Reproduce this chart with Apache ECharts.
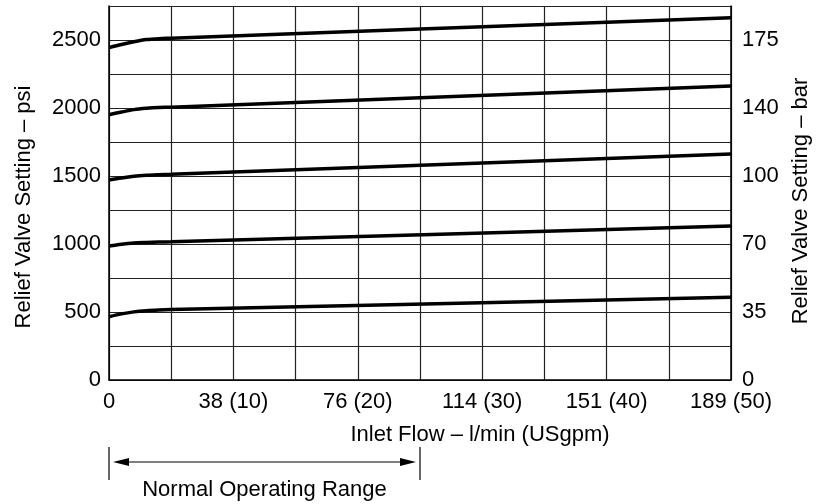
<!DOCTYPE html>
<html>
<head>
<meta charset="utf-8">
<script src="https://cdn.jsdelivr.net/npm/echarts@6/dist/echarts.min.js"></script>
<style>
  html, body { margin: 0; padding: 0; background: #fff; }
  #chart { width: 821px; height: 504px; }
</style>
</head>
<body>
<div id="chart"></div>
<script>
// inlet flow in USgpm
const flow = [0, 1, 2, 3, 4, 5, 50];
// relief valve setting curves, psi
const curve2500 = [2444, 2467, 2487, 2503, 2510, 2513, 2664];
const curve2000 = [1950, 1970, 1988, 1998, 2004, 2006, 2162];
const curve1500 = [1471, 1486, 1498, 1505, 1509, 1512, 1662];
const curve1000 = [985, 998, 1007, 1011, 1014, 1016, 1132];
const curve500 = [465, 486, 501, 510, 515, 518, 608];

const flowTickLabels = ['0', '38 (10)', '76 (20)', '114 (30)', '151 (40)', '189 (50)'];
const psiTickLabels = ['0', '500', '1000', '1500', '2000', '2500'];
const barTickLabels = ['0', '35', '70', '100', '140', '175'];
const normalRange = [0, 25];

const FONT = 'Liberation Sans, Arial, sans-serif';
const FS = 22;

let chart = echarts.init(document.getElementById('chart'));

function pairs(ys) {
  return flow.map((x, i) => [x, ys[i]]);
}

const curves = [curve2500, curve2000, curve1500, curve1000, curve500];

var option = {
  animation: false,
  grid: {
    left: 109,
    right: 90,
    top: 6,
    bottom: 124
  },
  xAxis: {
    type: 'value',
    min: 0,
    max: 50,
    interval: 5,
    name: 'Inlet Flow – l/min (USgpm)',
    nameLocation: 'middle',
    nameGap: 44,
    nameTextStyle: { color: '#000', fontSize: FS, fontFamily: FONT, padding: [0, 0, 0, 120] },
    axisLine: { lineStyle: { color: '#000', width: 1.5 } },
    axisTick: { show: false },
    axisLabel: {
      color: '#000',
      fontSize: FS,
      fontFamily: FONT,
      margin: 11,
      formatter: v => (v % 10 === 0 ? flowTickLabels[v / 10] : '')
    },
    splitLine: { show: true, lineStyle: { color: '#222', width: 1.2 } }
  },
  yAxis: [
    {
      type: 'value',
      min: 0,
      max: 2750,
      interval: 250,
      name: 'Relief Valve Setting – psi',
      nameLocation: 'middle',
      nameGap: 74,
      nameRotate: 90,
      nameTextStyle: { color: '#000', fontSize: FS, fontFamily: FONT, padding: [0, 28, 0, 0] },
      axisLine: { show: true, lineStyle: { color: '#000', width: 1.5 } },
      axisTick: { show: false },
      axisLabel: {
        color: '#000',
        fontSize: FS,
        fontFamily: FONT,
        margin: 8,
        formatter: v => (v % 500 === 0 ? psiTickLabels[v / 500] : '')
      },
      splitLine: { show: true, lineStyle: { color: '#222', width: 1.2 } }
    },
    {
      type: 'value',
      position: 'right',
      min: 0,
      max: 2750,
      interval: 250,
      name: 'Relief Valve Setting – bar',
      nameLocation: 'middle',
      nameGap: 58,
      nameRotate: 90,
      nameTextStyle: { color: '#000', fontSize: FS, fontFamily: FONT, padding: [0, 16, 0, 0] },
      axisLine: { show: true, lineStyle: { color: '#000', width: 1.5 } },
      axisTick: { show: false },
      axisLabel: {
        color: '#000',
        fontSize: FS,
        fontFamily: FONT,
        margin: 11,
        formatter: v => (v % 500 === 0 ? barTickLabels[v / 500] : '')
      },
      splitLine: { show: false }
    }
  ],
  series: curves.map(c => ({
    type: 'line',
    data: pairs(c),
    smooth: 0.3,
    showSymbol: false,
    lineStyle: { color: '#000', width: 3.5 }
  }))
};

chart.setOption(option);

// "Normal Operating Range" bracket under the axis, placed from the axis scale
const xa = chart.convertToPixel({ xAxisIndex: 0 }, normalRange[0]);
const xb = chart.convertToPixel({ xAxisIndex: 0 }, normalRange[1]);
const yBase = chart.convertToPixel({ yAxisIndex: 0 }, 0);
const yArrow = yBase + 82;
const lineStyle = { stroke: '#000', lineWidth: 1.2 };
chart.setOption({
  graphic: [
    { type: 'line', shape: { x1: xa, y1: yBase + 67, x2: xa, y2: yBase + 100 }, style: lineStyle },
    { type: 'line', shape: { x1: xb, y1: yBase + 67, x2: xb, y2: yBase + 100 }, style: lineStyle },
    { type: 'line', shape: { x1: xa + 18, y1: yArrow, x2: xb - 18, y2: yArrow }, style: lineStyle },
    { type: 'polygon', shape: { points: [[xa + 4, yArrow], [xa + 20, yArrow - 4], [xa + 20, yArrow + 4]] }, style: { fill: '#000' } },
    { type: 'polygon', shape: { points: [[xb - 4, yArrow], [xb - 20, yArrow - 4], [xb - 20, yArrow + 4]] }, style: { fill: '#000' } },
    {
      type: 'text',
      x: (xa + xb) / 2,
      y: yBase + 110,
      style: {
        text: 'Normal Operating Range',
        fill: '#000',
        fontSize: FS,
        fontFamily: FONT,
        align: 'center',
        verticalAlign: 'middle'
      }
    }
  ]
});
</script>
</body>
</html>
